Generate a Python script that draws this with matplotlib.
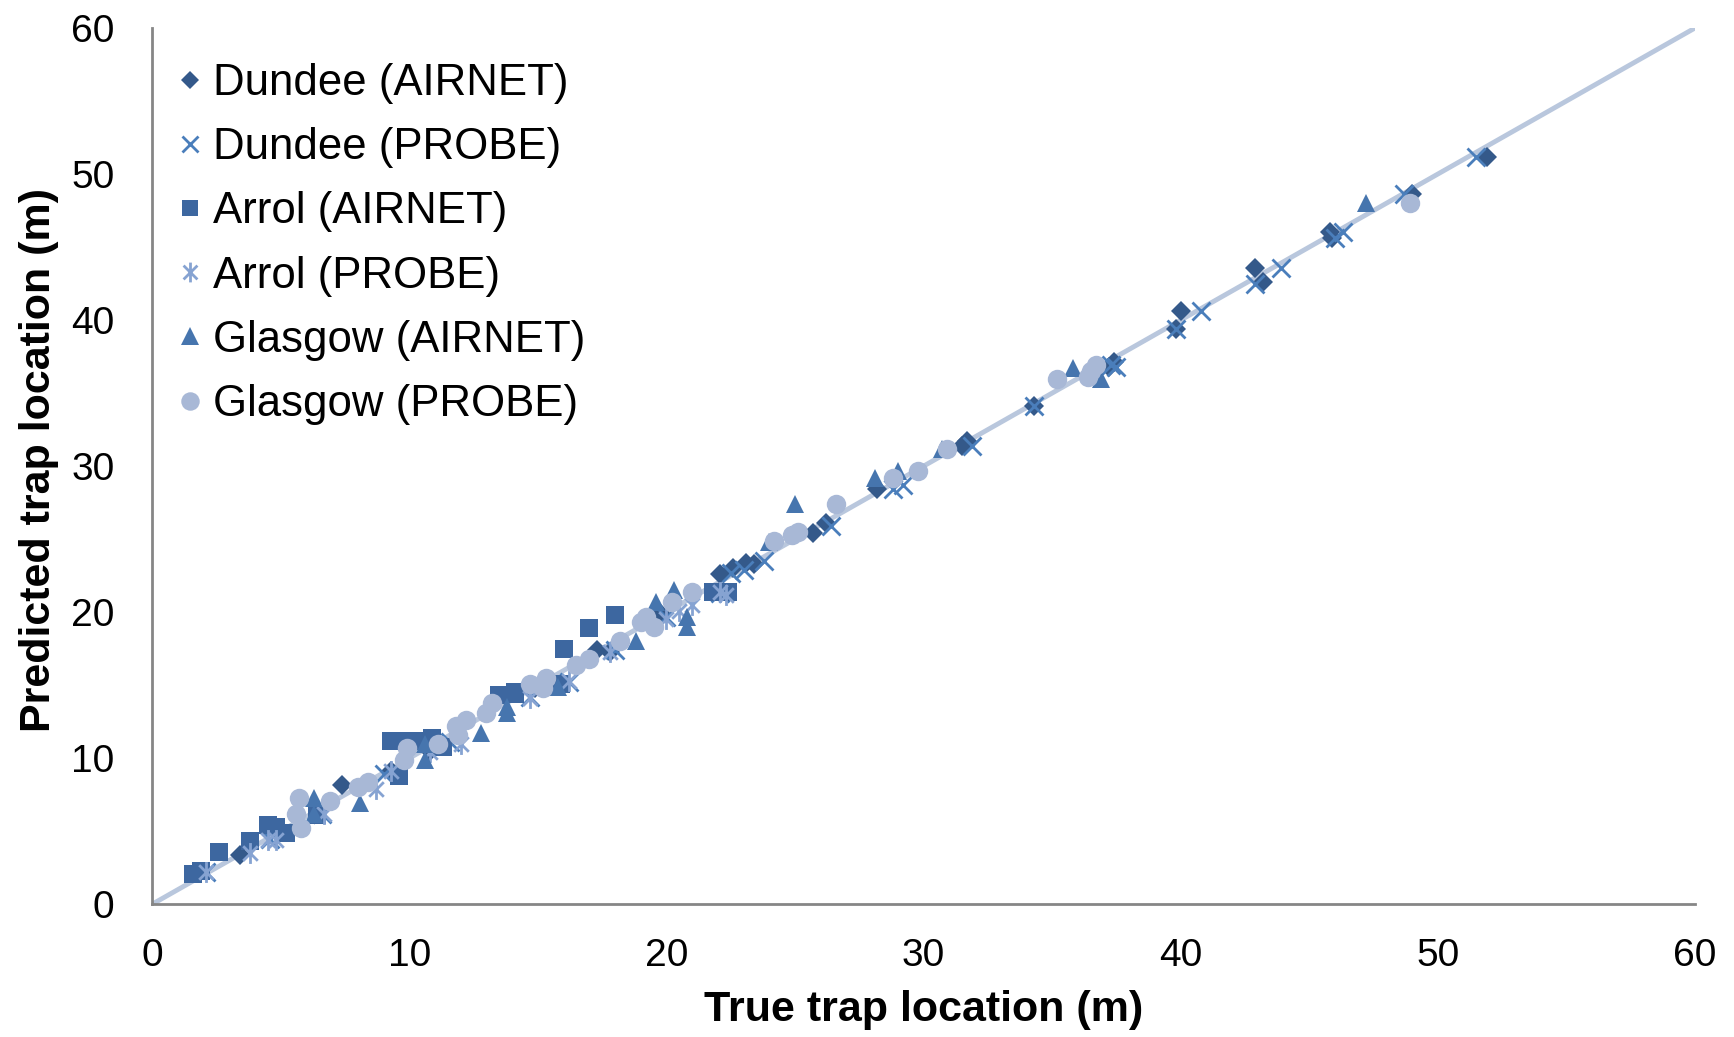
import matplotlib.pyplot as plt
from matplotlib.path import Path

plt.rcParams["font.family"] = ["Liberation Sans", "DejaVu Sans"]

# values (true, predicted), metres
dundee_air_x = [3.4, 7.4, 9.3, 10.8, 14.9, 17.3, 17.8, 19.8, 22.1, 22.6, 23.1, 23.4, 25.7, 26.2,
                28.2, 31.5, 31.7, 34.3, 37.2, 37.4, 39.8, 40.0, 42.9, 43.2, 45.8, 45.9, 49.0, 51.9]
dundee_air_y = [3.4, 8.2, 9.1, 10.5, 14.8, 17.4, 17.3, 19.9, 22.6, 23.0, 23.4, 23.3, 25.4, 26.1,
                28.4, 31.4, 31.7, 34.1, 36.8, 37.1, 39.4, 40.6, 43.6, 42.6, 46.0, 45.6, 48.6, 51.2]

dundee_probe_x = [2.1, 4.6, 6.6, 9.0, 11.6, 14.7, 16.2, 18.0, 20.0, 22.1, 22.5, 23.0, 23.8, 26.4,
                  28.8, 29.2, 31.9, 34.3, 37.3, 37.5, 39.8, 40.8, 42.9, 43.9, 46.0, 46.3, 48.7, 51.5]
dundee_probe_y = [2.2, 4.5, 6.2, 8.9, 11.1, 14.2, 15.2, 17.4, 19.7, 21.3, 22.7, 22.9, 23.5, 25.9,
                  28.4, 28.7, 31.4, 34.1, 36.9, 36.8, 39.4, 40.6, 42.5, 43.6, 45.6, 46.0, 48.6, 51.2]

arrol_air_x = [1.6, 1.9, 2.6, 3.8, 4.5, 4.8, 5.2, 6.4, 9.6, 9.3, 9.9, 10.4, 10.9, 11.3, 13.5,
               14.1, 14.1, 15.9, 16.0, 17.0, 18.0, 21.8, 22.4]
arrol_air_y = [2.1, 2.3, 3.6, 4.3, 5.4, 5.3, 4.9, 6.1, 8.8, 11.2, 11.2, 11.2, 11.4, 10.8, 14.3,
               14.4, 14.5, 15.1, 17.5, 18.9, 19.8, 21.4, 21.4]

arrol_probe_x = [2.1, 3.8, 4.5, 4.8, 6.7, 8.7, 9.3, 10.8, 12.0, 14.7, 16.2, 17.8, 20.0, 20.5,
                 21.0, 22.1, 22.3]
arrol_probe_y = [2.2, 3.5, 4.4, 4.4, 6.2, 7.9, 9.1, 10.4, 11.0, 14.1, 15.3, 17.3, 19.5, 20.1,
                 20.5, 21.4, 21.2]

glasgow_air_x = [6.3, 6.3, 8.1, 10.6, 10.6, 12.8, 13.8, 13.8, 15.8, 18.8, 19.6, 20.3, 20.8, 20.8,
                 24.0, 25.0, 28.1, 29.0, 30.7, 35.8, 36.9, 47.2]
glasgow_air_y = [7.3, 6.2, 6.9, 9.9, 11.0, 11.7, 13.5, 13.1, 14.9, 18.0, 20.7, 21.5, 19.7, 19.0,
                 24.8, 27.4, 29.2, 29.7, 31.2, 36.7, 36.0, 48.0]

glasgow_probe_x = [5.7, 5.6, 5.8, 6.9, 8.0, 8.4, 9.9, 9.8, 11.1, 11.8, 12.2, 11.9, 13.0, 13.2,
                   14.7, 15.3, 15.2, 16.5, 17.0, 18.2, 19.0, 19.2, 19.5, 20.2, 21.0, 24.2,
                   24.9, 25.1, 26.6, 28.8, 29.8, 30.9, 35.2, 36.4, 36.7, 36.5, 48.9]
glasgow_probe_y = [7.3, 6.2, 5.2, 7.1, 8.0, 8.4, 10.7, 9.9, 11.0, 12.2, 12.6, 11.6, 13.1, 13.8,
                   15.1, 15.5, 14.8, 16.4, 16.8, 18.0, 19.3, 19.7, 19.0, 20.7, 21.4, 24.9,
                   25.3, 25.5, 27.4, 29.2, 29.7, 31.2, 36.0, 36.1, 36.9, 36.5, 48.0]

fit_x = [0, 60]
fit_y = [0, 60]

# six-armed asterisk like Excel's star marker
d = 0.7
star = Path([(0, -1), (0, 1), (-d, -d), (d, d), (-d, d), (d, -d)],
            [Path.MOVETO, Path.LINETO, Path.MOVETO, Path.LINETO, Path.MOVETO, Path.LINETO])

fig = plt.figure(figsize=(17.34, 10.37), dpi=100)
ax = fig.add_axes([0.0877, 0.128, 0.8898, 0.845])

ax.plot(fit_x, fit_y, color="#b9c7dd", lw=3.5, zorder=1)

ax.plot(dundee_air_x, dundee_air_y, "D", color="#34598a", ms=10, mew=0,
        label="Dundee (AIRNET)", zorder=2)
ax.plot(dundee_probe_x, dundee_probe_y, "x", color="#4a7ebb", ms=12.5, mew=2,
        label="Dundee (PROBE)", zorder=3)
ax.plot(arrol_air_x, arrol_air_y, "s", color="#3d67a0", ms=12.5, mew=0,
        label="Arrol (AIRNET)", zorder=4)
ax.plot(arrol_probe_x, arrol_probe_y, marker=star, ls="none", color="#86a3d2",
        ms=15, mew=2, label="Arrol (PROBE)", zorder=5)
ax.plot(glasgow_air_x, glasgow_air_y, "^", color="#4675ae", ms=13.5, mew=0,
        label="Glasgow (AIRNET)", zorder=6)
ax.plot(glasgow_probe_x, glasgow_probe_y, "o", color="#a8b8d6", ms=14, mew=0,
        label="Glasgow (PROBE)", zorder=7)

ax.set_xlim(0, 60)
ax.set_ylim(0, 60)
ax.set_xticks(range(0, 61, 10))
ax.set_yticks(range(0, 61, 10))
ax.tick_params(length=0, labelsize=28)
ax.tick_params(axis="x", pad=24)
ax.tick_params(axis="y", pad=27)

for s in ("top", "right"):
    ax.spines[s].set_visible(False)
for s in ("left", "bottom"):
    ax.spines[s].set_color("#868686")
    ax.spines[s].set_linewidth(2)

ax.set_xlabel("True trap location (m)", fontsize=31, fontweight="bold", labelpad=12)
ax.set_ylabel("Predicted trap location (m)", fontsize=31, fontweight="bold")
ax.yaxis.set_label_coords(-0.06, 0.507)

ax.legend(loc="upper left", bbox_to_anchor=(0.002, 0.98), frameon=False, fontsize=31.5,
          handlelength=0.8, handletextpad=0.12, labelspacing=0.53, markerscale=0.95,
          borderaxespad=0)

fig.savefig("out.png", dpi=100)
